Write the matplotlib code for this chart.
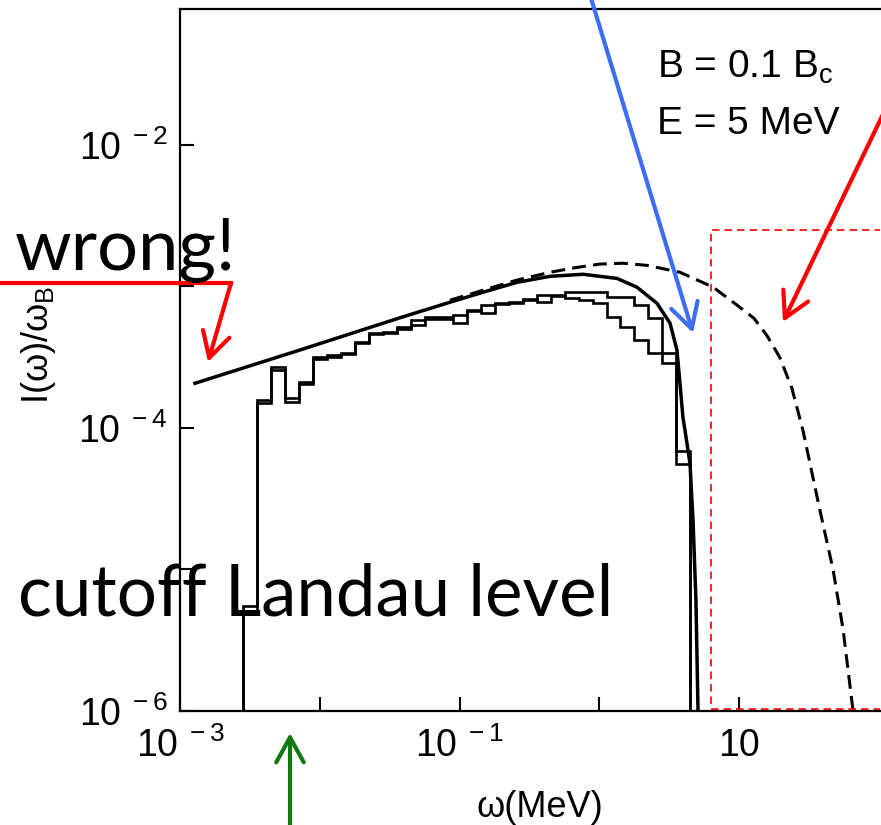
import numpy as np
import matplotlib
matplotlib.use("Agg")
import matplotlib.pyplot as plt
from matplotlib.lines import Line2D

# classical synchrotron spectrum (solid)
w_classical = [1.28e-3, 3.17e-3, 7.23e-3, 0.0164, 0.0375, 0.0855, 0.147, 0.258,
               0.445, 0.766, 1.34, 1.86, 2.59, 3.21, 3.60, 3.78, 3.97, 4.11,
               4.46, 4.69, 4.92, 5.09]
I_classical = [2.07e-4, 2.75e-4, 3.56e-4, 4.62e-4, 6.01e-4, 7.74e-4, 9.10e-4,
               1.07e-3, 1.18e-3, 1.22e-3, 1.14e-3, 9.89e-4, 7.60e-4, 5.50e-4,
               3.54e-4, 2.07e-4, 1.19e-4, 9.6e-5, 5.6e-5, 2.2e-5, 6.0e-6, 1.0e-6]

# spectrum without recoil (dashed)
w_dashed = [0.0855, 0.147, 0.258, 0.445, 0.649, 1.01, 1.48, 2.20, 3.78, 6.52,
            10.2, 12.8, 15.8, 19.6, 23.9, 28.7, 38.0, 47.1, 55.5, 65.5]
I_dashed = [8.0e-4, 9.4e-4, 1.11e-3, 1.26e-3, 1.35e-3, 1.44e-3, 1.46e-3,
            1.41e-3, 1.26e-3, 9.9e-4, 7.1e-4, 5.96e-4, 4.52e-4, 3.15e-4,
            1.91e-4, 9.6e-5, 2.6e-5, 1.0e-5, 3.8e-6, 1.0e-6]

# Landau-level histograms, 0.1-decade bins up to E - mc^2
hist_edges = np.logspace(-2.548, 0.652, 33)
hist_a = [5.53e-6, 1.57e-4, 2.68e-4, 1.62e-4, 2.10e-4, 3.16e-4, 3.26e-4,
          3.37e-4, 4.03e-4, 4.67e-4, 4.75e-4, 5.20e-4, 5.77e-4, 6.06e-4,
          6.06e-4, 6.26e-4, 6.79e-4, 7.36e-4, 7.61e-4, 7.74e-4, 8.12e-4,
          8.67e-4, 8.67e-4, 9.10e-4, 9.10e-4, 9.10e-4, 8.39e-4, 8.39e-4,
          7.36e-4, 5.96e-4, 3.37e-4, 6.93e-5]
hist_b = [5.10e-6, 1.49e-4, 2.59e-4, 1.52e-4, 2.03e-4, 3.05e-4, 3.20e-4,
          3.31e-4, 3.96e-4, 4.60e-4, 4.67e-4, 5.00e-4, 5.32e-4, 5.86e-4,
          5.86e-4, 5.49e-4, 6.70e-4, 6.47e-4, 7.50e-4, 7.60e-4, 8.00e-4,
          7.74e-4, 8.50e-4, 8.26e-4, 8.00e-4, 7.61e-4, 6.06e-4, 5.15e-4,
          4.16e-4, 3.37e-4, 2.86e-4, 5.60e-5]

x_ticks = [1e-3, 1e-2, 1e-1, 1e0, 1e1]
x_ticklabels = [r"$10^{\,\,-3}$", "", r"$10^{\,\,-1}$", "", "10"]
y_ticks = [1e-6, 1e-5, 1e-4, 1e-3, 1e-2]
y_ticklabels = [r"$10^{\,\,-6}$", "", r"$10^{\,\,-4}$", "", r"$10^{\,\,-2}$"]

plt.rcParams["font.family"] = ["Liberation Sans", "DejaVu Sans"]
plt.rcParams["mathtext.fontset"] = "custom"
plt.rcParams["mathtext.rm"] = "Liberation Sans"
plt.rcParams["mathtext.it"] = "Liberation Sans:italic"
plt.rcParams["mathtext.bf"] = "Liberation Sans:bold"

W, H = 881, 825
fig = plt.figure(figsize=(W / 100, H / 100), dpi=100)


def fpx(x, y):
    # pixel position -> figure fraction
    return (x / W, 1 - y / H)


ax = fig.add_axes([180 / W, 1 - 711 / H, 5.01 * 139.75 / W, 702 / H])
ax.set_xscale("log")
ax.set_yscale("log")
ax.set_xlim(1e-3, 10 ** 2.01)
ax.set_ylim(1e-6, 10 ** -1.039)

ax.stairs(hist_a, hist_edges, baseline=1e-8, color="black", lw=1.9)
ax.stairs(hist_b, hist_edges, baseline=1e-8, color="black", lw=1.9)
ax.plot(w_classical, I_classical, color="black", lw=2.5)
ax.plot(w_dashed, I_dashed, color="black", lw=2.2, dashes=(4.5, 2.4))

# highlighted high-energy region
ax.plot([300, 6.3, 6.3, 300], [2.5e-3, 2.5e-3, 1.03e-6, 1.03e-6],
        color="red", lw=1.2, dashes=(4.5, 3))

ax.spines["right"].set_visible(False)
for s in ["left", "bottom", "top"]:
    ax.spines[s].set_linewidth(1.6)
ax.minorticks_off()
ax.set_xticks(x_ticks, labels=x_ticklabels)
ax.set_yticks(y_ticks, labels=y_ticklabels)
ax.tick_params(axis="both", direction="in", length=10, width=1.5,
               labelsize=27)
ax.tick_params(axis="x", pad=12)
ax.tick_params(axis="y", pad=9)
ax.tick_params(top=False, right=False)

ax.set_xlabel("ω(MeV)", fontsize=26)
ax.xaxis.set_label_coords(0.514, -0.112)
ax.set_ylabel(r"I(ω)/ω$_{\rm B}$", fontsize=26)
ax.yaxis.set_label_coords(-0.174, 0.521)

fig.text(*fpx(657, 78), r"B = 0.1 B$_{\rm c}$", fontsize=28, va="baseline")
fig.text(*fpx(657, 134), "E = 5 MeV", fontsize=28, va="baseline")

fig.text(*fpx(15, 270), "wrong!", fontsize=52, family="Lato",
         va="baseline")
fig.text(*fpx(18, 615), "cutoff Landau level", fontsize=51, family="Lato",
         va="baseline")

# arrows
head = "->,head_length=1.0,head_width=0.55"
fig.add_artist(Line2D([0, 231 / W], [1 - 283 / H] * 2, color="red", lw=3,
                      solid_capstyle="projecting"))
ax.annotate("", xy=fpx(208, 362), xytext=fpx(231, 283),
            xycoords="figure fraction", textcoords="figure fraction",
            arrowprops=dict(arrowstyle=head, color="red", lw=3,
                            mutation_scale=18, shrinkA=0, shrinkB=0),
            annotation_clip=False)
ax.annotate("", xy=fpx(693, 333), xytext=fpx(590, -5),
            xycoords="figure fraction", textcoords="figure fraction",
            arrowprops=dict(arrowstyle=head, color="#3d6df2", lw=3,
                            mutation_scale=18, shrinkA=0, shrinkB=0),
            annotation_clip=False)
ax.annotate("", xy=fpx(783, 322), xytext=fpx(886, 108),
            xycoords="figure fraction", textcoords="figure fraction",
            arrowprops=dict(arrowstyle=head, color="red", lw=3,
                            mutation_scale=18, shrinkA=0, shrinkB=0),
            annotation_clip=False)
ax.annotate("", xy=fpx(290, 733), xytext=fpx(290, 830),
            xycoords="figure fraction", textcoords="figure fraction",
            arrowprops=dict(arrowstyle=head, color="#107a10", lw=3,
                            mutation_scale=18, shrinkA=0, shrinkB=0),
            annotation_clip=False)

fig.savefig("out.png", dpi=100)
